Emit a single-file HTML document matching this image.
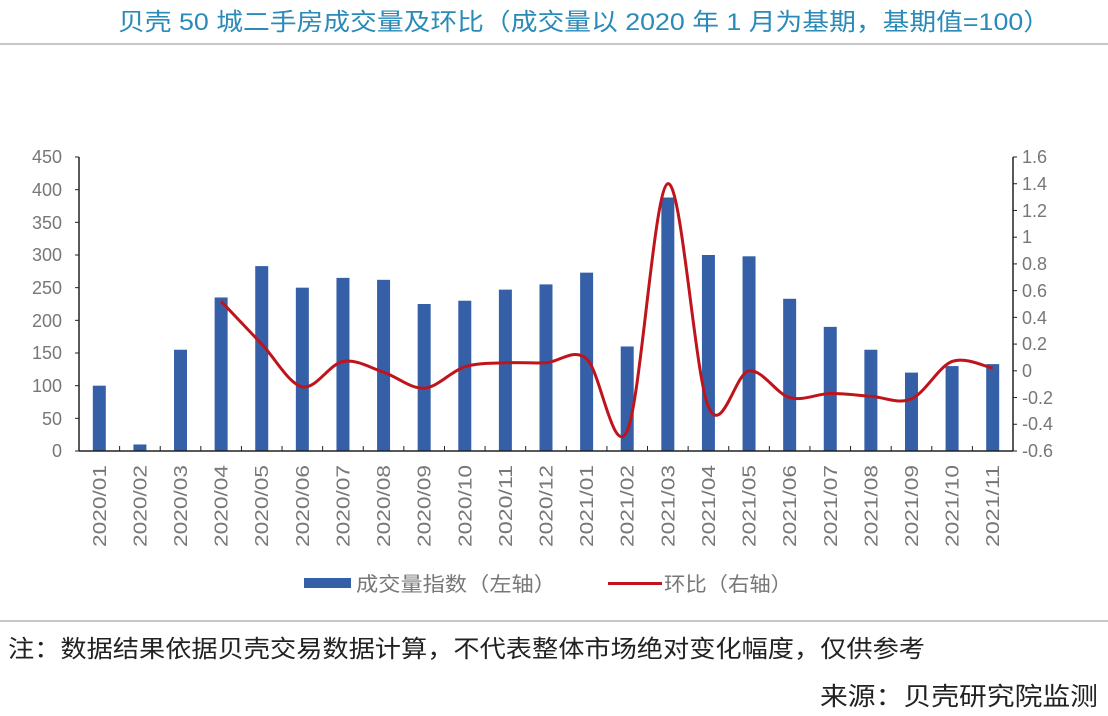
<!DOCTYPE html>
<html><head><meta charset="utf-8"><style>
body{margin:0;background:#fff;width:1108px;height:716px;overflow:hidden;font-family:"Liberation Sans","Noto Sans CJK SC",sans-serif}
</style></head><body>
<svg id="s" width="1108" height="716" xmlns="http://www.w3.org/2000/svg" style="position:absolute;left:0;top:0;font-family:'Liberation Sans','Noto Sans CJK SC',sans-serif">
<text x="118" y="30" font-size="24" fill="#2a8ab8" textLength="932" lengthAdjust="spacingAndGlyphs">贝壳 50 城二手房成交量及环比（成交量以 2020 年 1 月为基期，基期值=100）</text>
<rect x="0" y="43" width="1108" height="2" fill="#c8c8c8"/>
<g font-size="18" fill="#777" text-anchor="end">
<text x="62" y="163">450</text><text x="62" y="196">400</text><text x="62" y="229">350</text><text x="62" y="261">300</text><text x="62" y="294">250</text><text x="62" y="327">200</text><text x="62" y="359">150</text><text x="62" y="392">100</text><text x="62" y="425">50</text><text x="62" y="457">0</text>
</g>
<g font-size="18" fill="#777" text-anchor="start">
<text x="1022" y="163">1.6</text><text x="1022" y="190">1.4</text><text x="1022" y="217">1.2</text><text x="1022" y="243">1</text><text x="1022" y="270">0.8</text><text x="1022" y="297">0.6</text><text x="1022" y="324">0.4</text><text x="1022" y="350">0.2</text><text x="1022" y="377">0</text><text x="1022" y="404">-0.2</text><text x="1022" y="430">-0.4</text><text x="1022" y="457">-0.6</text>
</g>
<g id="g"></g>
<g font-size="18" fill="#777" id="xl"></g>
<rect x="304" y="578" width="47" height="10" fill="#3560a8"/>
<text x="356" y="591" font-size="20" fill="#777" textLength="200" lengthAdjust="spacingAndGlyphs">成交量指数（左轴）</text>
<rect x="608" y="582" width="54" height="3" fill="#c0141c"/>
<text x="664" y="591" font-size="20" fill="#777" textLength="128" lengthAdjust="spacingAndGlyphs">环比（右轴）</text>
<rect x="0" y="620" width="1108" height="2" fill="#c8c8c8"/>
<text x="8" y="657" font-size="24" fill="#222" textLength="917" lengthAdjust="spacingAndGlyphs">注：数据结果依据贝壳交易数据计算，不代表整体市场绝对变化幅度，仅供参考</text>
<text x="820" y="705" font-size="25" fill="#222" textLength="278" lengthAdjust="spacingAndGlyphs">来源：贝壳研究院监测</text>
</svg>
<script>
var L=79,R=1013,T=157,B=451,n=23,w=(R-L)/n;
var bars=[100,10,155,235,283,250,265,262,225,230,247,255,273,160,388,300,298,233,190,155,120,130,133];
var line=[null,null,null,0.52,0.2,-0.12,0.07,-0.01,-0.13,0.03,0.06,0.06,0.09,-0.45,1.4,-0.27,0.0,-0.2,-0.17,-0.19,-0.21,0.07,0.02];
var labs=["2020/01","2020/02","2020/03","2020/04","2020/05","2020/06","2020/07","2020/08","2020/09","2020/10","2020/11","2020/12","2021/01","2021/02","2021/03","2021/04","2021/05","2021/06","2021/07","2021/08","2021/09","2021/10","2021/11"];
var h='';
for(var i=0;i<n;i++){var c=L+w*(i+0.5),bh=bars[i]*(B-T)/450;h+='<rect x="'+(c-6.5)+'" y="'+(B-bh)+'" width="13" height="'+bh+'" fill="#3560a8"/>';}
h+='<line x1="'+L+'" y1="'+T+'" x2="'+L+'" y2="'+B+'" stroke="#222" stroke-width="1.5"/>';
h+='<line x1="'+R+'" y1="'+T+'" x2="'+R+'" y2="'+B+'" stroke="#222" stroke-width="1.5"/>';
h+='<line x1="'+L+'" y1="'+B+'" x2="'+R+'" y2="'+B+'" stroke="#222" stroke-width="1.5"/>';
for(var k=0;k<10;k++){var y=T+k*(B-T)/9;h+='<line x1="'+L+'" y1="'+y+'" x2="'+(L-4)+'" y2="'+y+'" stroke="#222"/>';}
for(var k=0;k<12;k++){var y=T+k*(B-T)/11;h+='<line x1="'+R+'" y1="'+y+'" x2="'+(R+4)+'" y2="'+y+'" stroke="#222"/>';}
for(var i=0;i<=n;i++){var x=L+w*i;h+='<line x1="'+x+'" y1="'+B+'" x2="'+x+'" y2="'+(B-5)+'" stroke="#222"/>';}
var pts=[];for(var i=0;i<n;i++)if(line[i]!==null)pts.push([L+w*(i+0.5),T+(1.6-line[i])*(B-T)/2.2]);
var d='M'+pts[0][0]+','+pts[0][1];
for(var i=0;i<pts.length-1;i++){var p0=pts[Math.max(0,i-1)],p1=pts[i],p2=pts[i+1],p3=pts[Math.min(pts.length-1,i+2)];
d+=' C'+(p1[0]+(p2[0]-p0[0])/6)+','+(p1[1]+(p2[1]-p0[1])/6)+' '+(p2[0]-(p3[0]-p1[0])/6)+','+(p2[1]-(p3[1]-p1[1])/6)+' '+p2[0]+','+p2[1];}
h+='<path d="'+d+'" fill="none" stroke="#c0141c" stroke-width="3"/>';
document.getElementById('g').innerHTML=h;
var xl='';for(var i=0;i<n;i++){var c=L+w*(i+0.5)+6.5;xl+='<text transform="translate('+c+',547) rotate(-90)" textLength="82" lengthAdjust="spacingAndGlyphs">'+labs[i]+'</text>';}
document.getElementById('xl').innerHTML=xl;
</script>
</body></html>
